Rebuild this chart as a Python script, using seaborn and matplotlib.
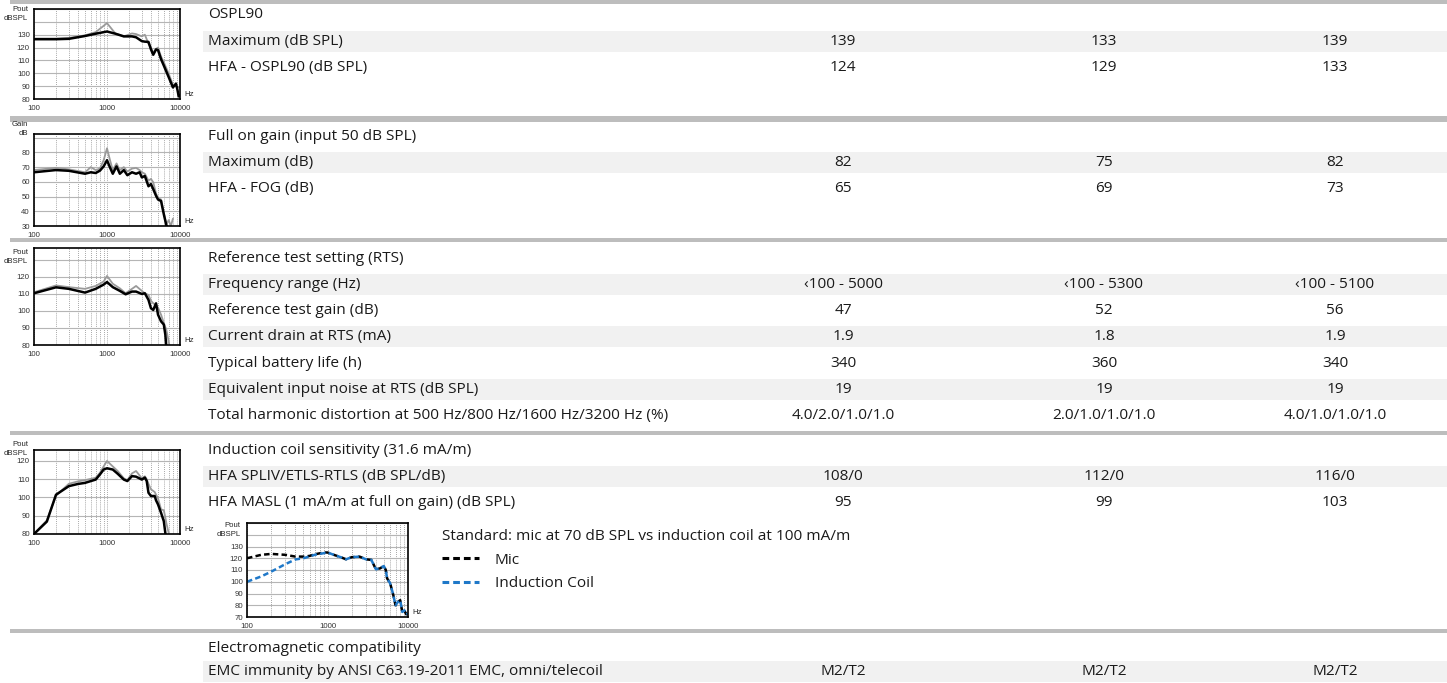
import matplotlib
matplotlib.use("Agg")

import matplotlib.pyplot as plt
import seaborn as sns
import pandas as pd
from matplotlib.patches import Rectangle
from matplotlib.lines import Line2D

W, H = 1447, 683

# ---- table data ----
sections = [
    "OSPL90",
    "Full on gain (input 50 dB SPL)",
    "Reference test setting (RTS)",
    "Induction coil sensitivity (31.6 mA/m)",
    "Electromagnetic compatibility",
]
ospl_rows = ["Maximum (dB SPL)", "HFA - OSPL90 (dB SPL)"]
ospl_vals = [["139", "133", "139"], ["124", "129", "133"]]
fog_rows = ["Maximum (dB)", "HFA - FOG (dB)"]
fog_vals = [["82", "75", "82"], ["65", "69", "73"]]
rts_rows = [
    "Frequency range (Hz)",
    "Reference test gain (dB)",
    "Current drain at RTS (mA)",
    "Typical battery life (h)",
    "Equivalent input noise at RTS (dB SPL)",
    "Total harmonic distortion at 500 Hz/800 Hz/1600 Hz/3200 Hz (%)",
]
rts_vals = [
    ["\u2039100 - 5000", "\u2039100 - 5300", "\u2039100 - 5100"],
    ["47", "52", "56"],
    ["1.9", "1.8", "1.9"],
    ["340", "360", "340"],
    ["19", "19", "19"],
    ["4.0/2.0/1.0/1.0", "2.0/1.0/1.0/1.0", "4.0/1.0/1.0/1.0"],
]
coil_rows = ["HFA SPLIV/ETLS-RTLS (dB SPL/dB)", "HFA MASL (1 mA/m at full on gain) (dB SPL)"]
coil_vals = [["108/0", "112/0", "116/0"], ["95", "99", "103"]]
emc_rows = ["EMC immunity by ANSI C63.19-2011 EMC, omni/telecoil"]
emc_vals = [["M2/T2", "M2/T2", "M2/T2"]]

legend_title = "Standard: mic at 70 dB SPL vs induction coil at 100 mA/m"

# ---- curve data (Hz, dB) ----
ospl_hz = [100, 200, 300, 500, 700, 1000, 1300, 1700, 2200, 2500, 3000, 3300, 3700,
           4000, 4300, 4700, 5000, 5500, 6000, 7000, 8000, 8800, 9200, 9600, 10000]
ospl_black = [126.5, 126.5, 126.8, 129, 130.8, 132.5, 130.8, 128.7, 128.7, 128, 125, 124.6, 124.4,
              118.6, 114.4, 118.6, 118, 111, 106, 97, 89, 92, 87.5, 82, 83]
ospl_gray = [127, 127, 127.5, 129.5, 132, 139, 131, 128.7, 131, 130.5, 128.7, 130, 123,
             120, 116, 119, 120, 113, 108.6, 99.7, 91, 90, 89, 89.5, 89]

fog_hz = [100, 200, 300, 500, 600, 700, 800, 900, 1000, 1100, 1200, 1350, 1500, 1700, 1900,
          2200, 2500, 2800, 3000, 3300, 3700, 4000, 4300, 4700, 5000, 5500, 6000, 6500,
          7000, 7500, 8000]
fog_black = [66.5, 68, 67.5, 65.5, 66.5, 66, 67.6, 70.5, 74.7, 69.7, 65.5, 70.5, 65.5, 68, 64.5,
             66.5, 65.5, 66.5, 63, 64, 57, 58.5, 55, 50.5, 48, 47, 38, 30.5,
             28, 27, 27]
fog_gray = [68, 69.5, 68.5, 66.5, 70, 68, 69, 74.7, 82.8, 74.7, 68, 72.5, 68, 70, 67,
            69, 69.5, 68, 66.5, 65.5, 60.8, 62, 59.7, 52, 49, 48, 39, 31,
            34, 30, 35]

rts_hz = [100, 200, 300, 500, 700, 900, 1000, 1200, 1500, 1800, 2200, 2500, 3000, 3300,
          3700, 4000, 4300, 4700, 5000, 5500, 6000, 6300, 6500, 7000, 7200]
rts_black = [110.4, 113.9, 113, 110.8, 113, 115.5, 117, 114, 111.8, 109.8, 111.4, 111.4, 110, 110.4,
             106.5, 101.6, 100.6, 104.5, 97.8, 93.9, 92, 86, 79, 75, 75]
rts_gray = [111, 115, 114, 113, 114.7, 117.3, 120.6, 116, 113.3, 110.4, 113, 114.7, 111.8, 110.4,
            109.4, 106, 104.5, 103.5, 102, 97.8, 92.9, 90.5, 89, 82, 79]

coil_hz = [100, 150, 200, 300, 400, 500, 700, 800, 900, 1000, 1200, 1400, 1700, 1900, 2200,
           2500, 3000, 3300, 3500, 3700, 4000, 4500, 4700, 5000, 5500, 6000, 6300, 6500, 7000]
coil_black = [80, 86.8, 101.5, 106.2, 107.4, 108, 109.8, 112.6, 115.3, 116, 115.3, 113, 109.8, 109, 111.7,
              111.4, 109.8, 110.9, 109, 102.6, 100.8, 100.8, 98.4, 96.2, 91.6, 87, 80.5, 76, 76]
coil_gray = [80, 87.5, 101, 107.5, 108.8, 109.5, 110.8, 113.5, 117, 120, 117, 114.5, 110.5, 109.5, 113.2,
             114.5, 110.5, 111.6, 110, 107.5, 104.5, 103, 101.5, 99.5, 93.5, 93, 89, 86, 80.5]

std_hz = [100, 150, 200, 300, 400, 500, 600, 700, 900, 1000, 1200, 1500, 1700, 2000, 2500,
          3000, 3500, 4000, 4500, 5000, 5300, 5500, 6000, 6500, 7000, 7500, 8000, 8500,
          9000, 9500, 10000]
std_mic = [120, 122.9, 123.7, 122.9, 121.4, 121.4, 122, 123.4, 124.9, 124.9, 122.9, 120.6, 119.1,
           120.9, 121.4, 119.1, 118.6, 110.6, 111.4, 113.4, 110, 102.9, 98.6, 90, 80, 82.9,
           84.3, 74.3, 75.7, 72.3, 72.9]
std_coil = [100, 104.5, 108.6, 115, 119, 120, 121.5, 123, 124.3, 124.9, 122.9, 120.6, 119.1,
            120.9, 121.4, 119.1, 118.6, 110.6, 111.4, 113.4, 110, 102.9, 98.6, 90, 80, 82.9,
            84.3, 74.3, 75.7, 72.3, 72.9]

sns.set_style("white")
plt.rcParams["font.family"] = ["Open Sans", "DejaVu Sans"]

TXT = "#1a1a1a"
BAND = "#f1f1f1"
SEP = "#bdbdbd"
GRAY_LINE = "#9a9a9a"
BLUE = "#1f78c8"
LABEL_X = 208
COL_X = [843, 1104, 1335]
PITCH = 26.3
FS = 11.1

fig = plt.figure(figsize=(W / 100, H / 100), dpi=100)
bg = fig.add_axes([0, 0, 1, 1], zorder=-1)
bg.set_xlim(0, W)
bg.set_ylim(H, 0)
bg.axis("off")


def separator(y, px):
    bg.plot([10, W], [y, y], color=SEP, lw=px * 0.72, solid_capstyle="butt")


def section(y0, title, rows, vals, pitch=PITCH):
    bg.text(LABEL_X, y0, title, fontsize=FS, color=TXT, va="center")
    for i, (lab, v) in enumerate(zip(rows, vals)):
        y = y0 + pitch * (i + 1)
        if i % 2 == 0:
            bg.add_patch(Rectangle((203, y - 10.5), W - 203, 21, color=BAND, lw=0))
        bg.text(LABEL_X, y, lab, fontsize=FS, color=TXT, va="center")
        for cx, s in zip(COL_X, v):
            bg.text(cx, y, s, fontsize=FS, color=TXT, va="center", ha="center")


def small_chart(box, ylim, last_label, ylab, lab_off, curves):
    l, t, r, b = box
    ax = fig.add_axes([l / W, 1 - b / H, (r - l) / W, (b - t) / H])
    for hz, db, color, lw, dashed in curves:
        df = pd.DataFrame({"Hz": hz, "dB": db})
        sns.lineplot(data=df, x="Hz", y="dB", ax=ax, color=color, lw=lw,
                     estimator=None, legend=False)
        if dashed:
            ax.lines[-1].set_dashes([2.2, 1.3])
    ax.set_xscale("log")
    ax.set_xlim(100, 10000)
    ax.set_ylim(*ylim)
    ticks = list(range(int(ylim[0]), int(ylim[1]) + 1, 10))
    ax.set_yticks(ticks)
    ax.set_yticklabels([str(v) if v <= last_label else "" for v in ticks])
    ax.set_xticks([100, 1000, 10000])
    ax.set_xticklabels(["100", "1000", "10000"])
    ax.xaxis.set_minor_locator(matplotlib.ticker.LogLocator(base=10, subs=range(2, 10)))
    ax.xaxis.set_minor_formatter(matplotlib.ticker.NullFormatter())
    ax.tick_params(length=0, which="both", labelsize=5.6, colors="#333333")
    ax.tick_params(axis="x", pad=4)
    ax.tick_params(axis="y", pad=3)
    for lab in ax.get_xticklabels() + ax.get_yticklabels():
        lab.set_family("Liberation Sans")
    ax.grid(True, axis="y", color="#b5b5b5", lw=0.8)
    ax.grid(True, axis="x", which="both", color="#8a8a8a", lw=0.6, ls=(0, (1, 1.5)))
    for s in ax.spines.values():
        s.set_color("black")
        s.set_linewidth(1.2)
    ax.set_xlabel("")
    ax.set_ylabel("")
    ax.text(1.03, 0.03, "Hz", transform=ax.transAxes, fontsize=5.6, family="Liberation Sans")
    ax.text(-0.04, 1 - lab_off / (b - t), ylab, transform=ax.transAxes, fontsize=5.6,
            ha="right", va="center", family="Liberation Sans", linespacing=1.25)
    return ax


# separators
separator(2, 4)
separator(119, 6)
separator(240, 4)
separator(433, 4)
separator(631, 4)

# table sections
section(15, sections[0], ospl_rows, ospl_vals)
section(136, sections[1], fog_rows, fog_vals)
section(258, sections[2], rts_rows, rts_vals)
section(450, sections[3], coil_rows, coil_vals)
section(648, sections[4], emc_rows, emc_vals, pitch=23.5)

# small response charts
small_chart((34, 9, 180, 99), (80, 150), 130, "Pout\ndBSPL", 5,
            [(ospl_hz, ospl_gray, GRAY_LINE, 1.3, False), (ospl_hz, ospl_black, "black", 1.8, False)])
small_chart((34, 134, 180, 226), (30, 92.5), 80, "Gain\ndB", -5,
            [(fog_hz, fog_gray, GRAY_LINE, 1.3, False), (fog_hz, fog_black, "black", 1.8, False)])
small_chart((34, 248, 180, 345), (80, 137), 120, "Pout\ndBSPL", 9,
            [(rts_hz, rts_gray, GRAY_LINE, 1.3, False), (rts_hz, rts_black, "black", 1.8, False)])
small_chart((34, 450, 180, 534), (80, 126), 120, "Pout\ndBSPL", -1,
            [(coil_hz, coil_gray, GRAY_LINE, 1.3, False), (coil_hz, coil_black, "black", 1.8, False)])
ax5 = small_chart((247, 523, 408, 617), (70, 150), 130, "Pout\ndBSPL", 7,
                  [(std_hz, std_mic, "black", 1.8, True), (std_hz, std_coil, BLUE, 1.8, True)])

handles = [Line2D([], [], color="black", lw=2.2, dashes=[2.2, 1.3]),
           Line2D([], [], color=BLUE, lw=2.2, dashes=[2.2, 1.3])]
leg = ax5.legend(handles, ["Mic", "Induction Coil"], title=legend_title, frameon=False,
                 loc="upper left", bbox_to_anchor=(436 / W, 1 - 523 / H),
                 bbox_transform=fig.transFigure, alignment="left", fontsize=FS,
                 title_fontsize=FS, handlelength=2.4, handletextpad=1.0,
                 labelspacing=0.55, borderaxespad=0)
for t in leg.get_texts():
    t.set_color(TXT)
leg.get_title().set_color(TXT)

fig.savefig("out.png", dpi=100)
